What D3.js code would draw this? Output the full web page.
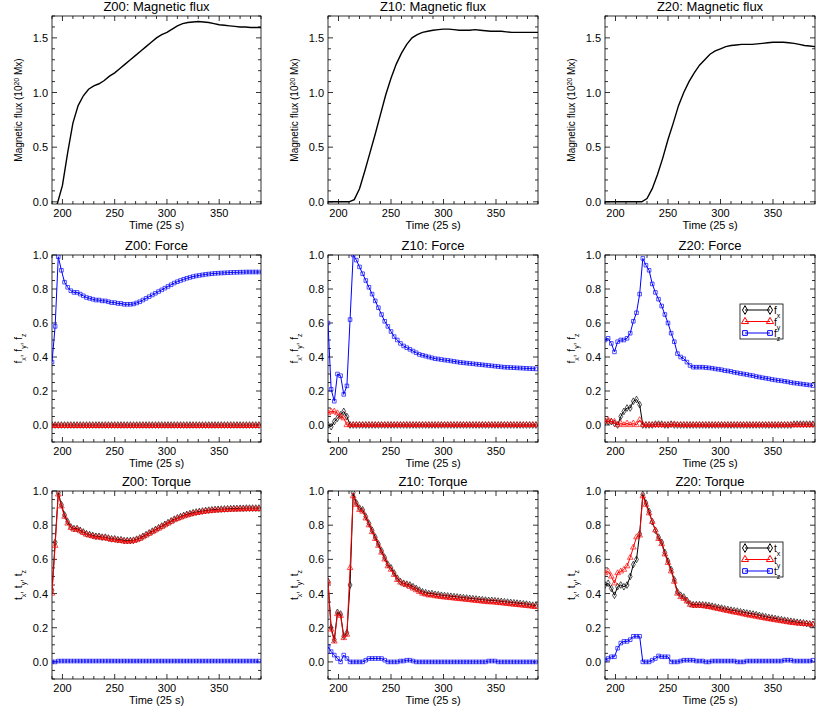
<!DOCTYPE html>
<html><head><meta charset="utf-8">
<script src="https://cdn.jsdelivr.net/npm/d3@7"></script>
<style>body{margin:0;background:#fff}text{font-family:"Liberation Sans",Arial,sans-serif}</style>
</head><body><svg id="c" width="830" height="712"></svg>
<script>
// ---------- data ----------
const fluxTime = [190,195,200,205,210,215,220,225,230,235,240,245,250,255,260,265,270,275,280,285,290,295,300,305,310,315,320,325,330,335,340,345,350,355,360,365,370,375,380,385,390];
const fluxZ00 = [-0.2,-0.02,0.15,0.45,0.72,0.88,0.97,1.03,1.06,1.08,1.11,1.15,1.18,1.22,1.26,1.30,1.34,1.38,1.42,1.46,1.50,1.53,1.55,1.58,1.61,1.63,1.64,1.645,1.65,1.645,1.64,1.63,1.62,1.615,1.61,1.605,1.60,1.60,1.595,1.595,1.595];
const fluxZ10 = [0,0,0,0,0,0.02,0.12,0.28,0.45,0.62,0.80,0.98,1.13,1.26,1.36,1.44,1.50,1.53,1.55,1.56,1.57,1.575,1.58,1.58,1.575,1.57,1.57,1.57,1.575,1.57,1.565,1.56,1.56,1.56,1.555,1.55,1.55,1.55,1.55,1.55,1.55];
const fluxZ20 = [0,0,0,0,0,0,0,0,0.03,0.12,0.25,0.40,0.57,0.72,0.88,1.0,1.10,1.18,1.25,1.30,1.35,1.38,1.40,1.42,1.43,1.435,1.44,1.44,1.44,1.445,1.45,1.455,1.46,1.46,1.46,1.455,1.45,1.44,1.43,1.425,1.42];
const tStart = 190, tStep = 3; // sample times: 190,193,...,388
const fxZ00 = [0,0,0,0,0,0,0,0,0,0,0,0,0,0,0,0,0,0,0,0,0,0,0,0,0,0,0,0,0,0,0,0,0,0,0,0,0,0,0,0,0,0,0,0,0,0,0,0,0,0,0,0,0,0,0,0,0,0,0,0,0,0,0,0,0,0,0];
const fyZ00 = [-0.005,-0.005,-0.005,-0.005,-0.005,-0.005,-0.005,-0.005,-0.005,-0.005,-0.005,-0.005,-0.005,-0.005,-0.005,-0.005,-0.005,-0.005,-0.005,-0.005,-0.005,-0.005,-0.005,-0.005,-0.005,-0.005,-0.005,-0.005,-0.005,-0.005,-0.005,-0.005,-0.005,-0.005,-0.005,-0.005,-0.005,-0.005,-0.005,-0.005,-0.005,-0.005,-0.005,-0.005,-0.005,-0.005,-0.005,-0.005,-0.005,-0.005,-0.005,-0.005,-0.005,-0.005,-0.005,-0.005,-0.005,-0.005,-0.005,-0.005,-0.005,-0.005,-0.005,-0.005,-0.005,-0.005,-0.005];
const fzZ00 = [.37,.58,.99,.91,.84,.81,.79,.78,.78,.77,.76,.75,.745,.74,.735,.735,.73,.73,.725,.72,.72,.715,.715,.71,.71,.71,.712,.718,.725,.735,.745,.755,.765,.775,.785,.795,.805,.815,.825,.835,.843,.85,.857,.863,.868,.873,.877,.88,.883,.886,.888,.89,.892,.893,.894,.895,.896,.897,.898,.898,.899,.899,.9,.9,.9,.9,.9];
const fxZ10 = [0,-.01,.02,.04,.06,.08,.05,0,0,0,0,0,0,0,0,0,0,0,0,0,0,0,0,0,0,0,0,0,0,0,0,0,0,0,0,0,0,0,0,0,0,0,0,0,0,0,0,0,0,0,0,0,0,0,0,0,0,0,0,0,0,0,0,0,0,0,0];
const fyZ10 = [.07,.08,.08,.07,.05,.04,0,0,0,0,0,0,0,0,0,0,0,0,0,0,0,0,0,0,0,0,0,0,0,0,0,0,0,0,0,0,0,0,0,0,0,0,0,0,0,0,0,0,0,0,0,0,0,0,0,0,0,0,0,0,0,0,0,0,0,0,0];
const fzZ10 = [.60,.21,.14,.30,.29,.18,.23,.62,1.0,.97,.93,.89,.85,.81,.77,.73,.69,.65,.61,.58,.55,.52,.50,.48,.465,.455,.445,.435,.425,.415,.41,.405,.40,.395,.39,.388,.385,.382,.38,.377,.374,.371,.368,.366,.364,.362,.36,.358,.356,.354,.352,.35,.348,.346,.344,.342,.34,.339,.338,.337,.336,.335,.334,.333,.332,.331,.33];
const fxZ20 = [.02,.02,.02,.01,0,.05,.08,.10,.10,.14,.15,.12,0,0,0,0,.005,.005,.005,0,0,.005,0,0,0,0,0,0,0,0,0,0,0,0,0,0,0,0,0,0,0,0,0,0,0,0,0,0,0,0,0,0,0,0,0,0,0,0,0,0,.005,.005,.005,.005,.005,.005,.005];
const fyZ20 = [.02,.03,.02,.02,0,.01,0,.01,0,.01,0,.03,0,0,0,0,0,0,0,0,0,0,.005,0,0,0,0,0,0,0,0,0,0,0,0,0,0,0,0,0,0,0,0,0,0,0,0,0,0,0,0,0,0,0,0,0,0,0,0,0,0,0,0,0,0,0,0];
const fzZ20 = [.50,.51,.48,.43,.49,.50,.50,.51,.54,.61,.66,.77,.98,.94,.91,.83,.78,.74,.70,.65,.60,.54,.49,.42,.40,.39,.37,.35,.34,.34,.34,.34,.338,.336,.334,.33,.328,.325,.32,.318,.315,.31,.307,.303,.30,.297,.293,.29,.285,.282,.278,.275,.272,.268,.265,.262,.26,.257,.254,.25,.247,.245,.242,.24,.237,.235,.232];
const txZ00 = [.42,.70,.99,.92,.86,.82,.79,.78,.78,.77,.76,.75,.745,.74,.735,.735,.73,.73,.725,.72,.72,.715,.715,.71,.71,.71,.712,.718,.725,.735,.745,.755,.765,.775,.785,.795,.805,.815,.825,.835,.843,.85,.857,.863,.868,.873,.877,.88,.883,.886,.888,.89,.892,.893,.894,.895,.896,.897,.898,.898,.899,.899,.9,.9,.9,.9,.9];
const tyZ00 = [.40,.68,.98,.91,.85,.81,.785,.775,.775,.765,.755,.745,.74,.735,.73,.73,.725,.725,.72,.715,.715,.71,.71,.705,.705,.705,.708,.713,.72,.73,.74,.75,.76,.77,.78,.79,.80,.81,.82,.83,.838,.845,.852,.858,.863,.868,.872,.875,.878,.881,.883,.885,.887,.888,.889,.89,.891,.892,.893,.893,.894,.894,.895,.895,.895,.895,.895];
const tzZ00 = [0,0,.005,.005,.005,.005,.005,.005,.005,.005,.005,.005,.005,.005,.005,.005,.005,.005,.005,.005,.005,.005,.005,.005,.005,.005,.005,.005,.005,.005,.005,.005,.005,.005,.005,.005,.005,.005,.005,.005,.005,.005,.005,.005,.005,.005,.005,.005,.005,.005,.005,.005,.005,.005,.005,.005,.005,.005,.005,.005,.005,.005,.005,.005,.005,.005,.005];
const txZ10 = [.47,.20,.13,.29,.28,.15,.17,.45,.99,.93,.90,.89,.85,.81,.77,.73,.69,.65,.61,.57,.55,.52,.49,.47,.46,.455,.45,.44,.43,.42,.41,.405,.40,.40,.395,.393,.39,.388,.386,.384,.382,.38,.378,.376,.374,.372,.37,.368,.366,.364,.362,.36,.36,.358,.356,.354,.352,.35,.348,.346,.344,.342,.34,.338,.335,.332,.33];
const tyZ10 = [.47,.19,.12,.28,.27,.14,.16,.55,.97,.92,.89,.88,.84,.80,.76,.72,.68,.64,.60,.56,.54,.51,.48,.465,.455,.45,.44,.43,.42,.41,.40,.395,.39,.39,.385,.383,.38,.378,.376,.374,.372,.37,.368,.366,.364,.362,.36,.358,.356,.354,.352,.35,.35,.348,.346,.344,.342,.34,.338,.336,.334,.332,.33,.328,.326,.324,.322];
const tzZ10 = [.09,.06,.04,.02,0,.04,.02,0,0,0,0,0,.01,.02,.02,.02,.02,.02,.01,0,0,0,0,.005,.005,.01,.01,.005,0,0,0,0,0,0,0,0,0,0,0,0,0,0,0,0,0,0,0,0,0,0,0,.005,.005,.005,0,0,0,0,0,0,0,0,0,0,0,0,0];
const txZ20 = [.45,.46,.43,.39,.44,.45,.44,.45,.50,.57,.60,.75,.98,.93,.88,.82,.77,.73,.70,.64,.59,.54,.48,.41,.39,.38,.36,.34,.335,.335,.335,.334,.332,.33,.326,.322,.318,.315,.31,.307,.303,.30,.297,.293,.29,.286,.283,.28,.276,.272,.268,.264,.26,.257,.254,.25,.247,.244,.241,.238,.235,.232,.23,.228,.225,.222,.22];
const tyZ20 = [.52,.53,.50,.46,.52,.53,.54,.56,.61,.67,.73,.74,.97,.92,.87,.82,.77,.72,.69,.63,.58,.53,.47,.40,.38,.37,.355,.335,.33,.33,.33,.328,.325,.322,.318,.314,.31,.306,.302,.298,.294,.29,.287,.283,.279,.275,.271,.268,.265,.261,.258,.254,.251,.248,.245,.242,.239,.236,.233,.23,.228,.226,.225,.223,.222,.22,.22];
const tzZ20 = [.01,.02,.03,.03,.08,.11,.12,.12,.13,.15,.15,.15,0,0,0,.01,.02,.035,.03,.03,.03,0,0,0,.005,.01,.01,.01,.01,.005,.005,.005,0,0,.005,.005,.005,.005,.005,.005,.005,.005,0,0,0,.005,.005,.005,.005,.005,.005,.005,.005,.005,.005,.005,.005,.01,.01,.01,.005,.005,.005,.005,.005,.005,.01];
const xTicks = [200,250,300,350];
const fluxTicks = [0,0.5,1.0,1.5];
const ftTicks = [0,0.2,0.4,0.6,0.8,1.0];
const titles = [["Z00: Magnetic flux","Z10: Magnetic flux","Z20: Magnetic flux"],["Z00: Force","Z10: Force","Z20: Force"],["Z00: Torque","Z10: Torque","Z20: Torque"]];

// ---------- layout ----------
const svg = d3.select("#c");
const colX = [[52,261],[328,538],[605,815]];
const rowY = [[16,204],[255,442],[491,679]];
const markers = {black:d3.symbolDiamond, red:d3.symbolTriangle, blue:d3.symbolSquare};
const colorMap = {black:"#000", red:"#f00", blue:"#00f"};

function subLabel(g, base, subs){
  subs.forEach((s,i)=>{
    g.append("tspan").text(base);
    g.append("tspan").attr("baseline-shift","sub").attr("font-size","7px").text(s);
    if(i<subs.length-1) g.append("tspan").text(", ");
  });
}

function panel(ci, ri, yDom, yTicks, yMinor, series, ylabel, legend){
  const [x0,x1]=colX[ci], [y0,y1]=rowY[ri];
  const x=d3.scaleLinear().domain([190,390]).range([x0,x1]);
  const y=d3.scaleLinear().domain(yDom).range([y1,y0]);
  const g=svg.append("g");
  const id="clip"+ci+ri;
  svg.append("clipPath").attr("id",id).append("rect").attr("x",x0).attr("y",y0).attr("width",x1-x0).attr("height",y1-y0);
  // ticks (inward, all sides)
  const tk=g.append("g").attr("stroke","#000").attr("stroke-width",0.8);
  d3.range(190,391,10).forEach(v=>{
    const L = v%50===0?5:3;
    tk.append("line").attr("x1",x(v)).attr("x2",x(v)).attr("y1",y1).attr("y2",y1-L);
    tk.append("line").attr("x1",x(v)).attr("x2",x(v)).attr("y1",y0).attr("y2",y0+L);
  });
  const yMaj = new Set(yTicks.map(v=>v.toFixed(2)));
  d3.range(Math.ceil(yDom[0]/yMinor)*yMinor, yDom[1]+1e-9, yMinor).forEach(v=>{
    const L = yMaj.has(v.toFixed(2))?5:3;
    tk.append("line").attr("y1",y(v)).attr("y2",y(v)).attr("x1",x0).attr("x2",x0+L);
    tk.append("line").attr("y1",y(v)).attr("y2",y(v)).attr("x1",x1).attr("x2",x1-L);
  });
  g.append("rect").attr("x",x0).attr("y",y0).attr("width",x1-x0).attr("height",y1-y0).attr("fill","none").attr("stroke","#000").attr("stroke-width",0.8);
  xTicks.forEach(v=>g.append("text").attr("x",x(v)).attr("y",y1+13).attr("text-anchor","middle").attr("font-size","11px").text(v));
  yTicks.forEach(v=>g.append("text").attr("x",x0-4).attr("y",y(v)+4).attr("text-anchor","end").attr("font-size","11px").text(v.toFixed(1)));
  g.append("text").attr("x",(x0+x1)/2).attr("y",y1+25).attr("text-anchor","middle").attr("font-size","11px").text("Time (25 s)");
  g.append("text").attr("x",(x0+x1)/2).attr("y",y0-5).attr("text-anchor","middle").attr("font-size","13px").text(titles[ri][ci]);
  const yl=g.append("text").attr("transform",`translate(${x0-30},${(y0+y1)/2}) rotate(-90)`).attr("text-anchor","middle").attr("font-size","10px");
  ylabel(yl);
  const pg=g.append("g").attr("clip-path",`url(#${id})`);
  series.forEach(s=>{
    const pts = s.t ? s.v.map((v,i)=>[s.t[i],v]) : s.v.map((v,i)=>[tStart+tStep*i,v]);
    pg.append("path").attr("d",d3.line().x(d=>x(d[0])).y(d=>y(d[1]))(pts)).attr("fill","none").attr("stroke",colorMap[s.c]).attr("stroke-width",s.t?1.4:1);
    if(!s.t){
      const sym=d3.symbol().type(markers[s.c]).size(s.c==="red"?14:13);
      pg.selectAll(null).data(pts).join("path").attr("d",sym).attr("transform",d=>`translate(${x(d[0])},${y(d[1])})`).attr("fill","none").attr("stroke",colorMap[s.c]).attr("stroke-width",0.8).attr("opacity",0.85);
    }
  });
  if(legend){
    const lx=x0+135, ly=y0+(ri===1?49:51), lw=43, lh=35;
    g.append("rect").attr("x",lx).attr("y",ly).attr("width",lw).attr("height",lh).attr("fill","#fff").attr("stroke","#000").attr("stroke-width",0.8);
    ["black","red","blue"].forEach((c,i)=>{
      const yy=ly+6+i*11.5;
      g.append("line").attr("x1",lx+5).attr("x2",lx+30).attr("y1",yy).attr("y2",yy).attr("stroke",colorMap[c]);
      const sym=d3.symbol().type(markers[c]).size(22);
      [lx+5,lx+30].forEach(px=>g.append("path").attr("d",sym).attr("transform",`translate(${px},${yy})`).attr("fill","none").attr("stroke",colorMap[c]));
      const t=g.append("text").attr("x",lx+34).attr("y",yy+4).attr("font-size","10px");
      t.append("tspan").text(legend);
      t.append("tspan").attr("baseline-shift","sub").attr("font-size","7px").text(["x","y","z"][i]);
    });
  }
}

const fluxLabel = t=>{t.append("tspan").text("Magnetic flux (10");t.append("tspan").attr("baseline-shift","super").attr("font-size","7px").text("20");t.append("tspan").text(" Mx)");};
[fluxZ00,fluxZ10,fluxZ20].forEach((f,i)=>panel(i,0,[-0.02,1.7],fluxTicks,0.1,[{v:f,t:fluxTime,c:"black"}],fluxLabel,null));
const forces=[[fxZ00,fyZ00,fzZ00],[fxZ10,fyZ10,fzZ10],[fxZ20,fyZ20,fzZ20]];
const torques=[[txZ00,tyZ00,tzZ00],[txZ10,tyZ10,tzZ10],[txZ20,tyZ20,tzZ20]];
forces.forEach((f,i)=>panel(i,1,[-0.1,1.0],ftTicks,0.05,[{v:f[2],c:"blue"},{v:f[0],c:"black"},{v:f[1],c:"red"}],t=>subLabel(t,"f",["x","y","z"]),i===2?"f":null));
torques.forEach((f,i)=>panel(i,2,[-0.1,1.0],ftTicks,0.05,[{v:f[2],c:"blue"},{v:f[0],c:"black"},{v:f[1],c:"red"}],t=>subLabel(t,"t",["x","y","z"]),i===2?"t":null));
</script></body></html>
